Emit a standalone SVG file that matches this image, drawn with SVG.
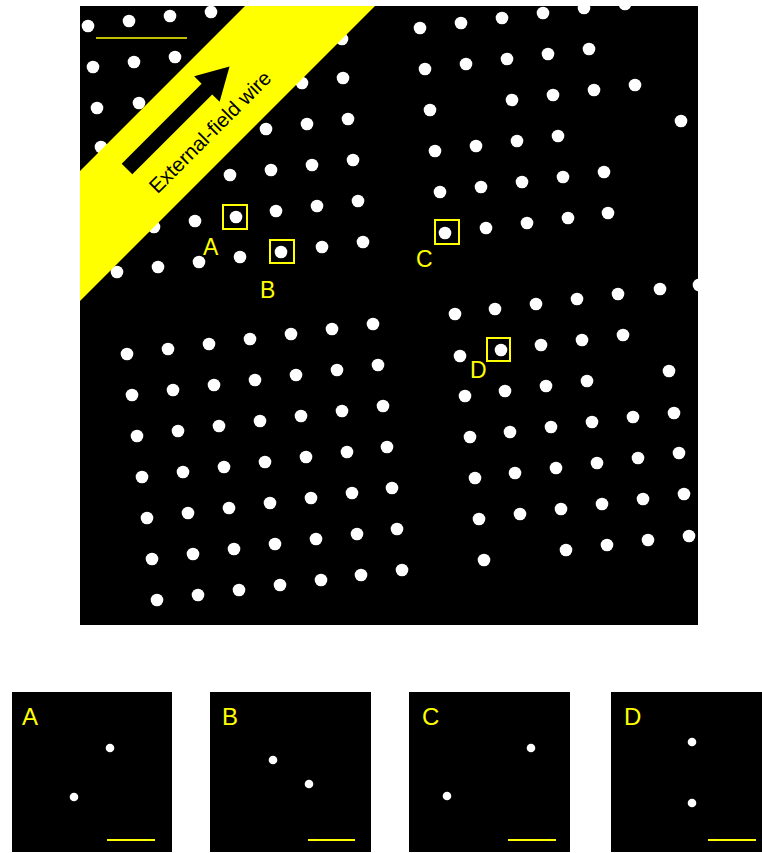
<svg xmlns="http://www.w3.org/2000/svg" width="762" height="853" viewBox="0 0 762 853">
<style>
.bg{fill:#000}
.d circle{fill:#fff}
.lbl{font-family:"Liberation Sans",Arial,sans-serif;fill:#ffff00}
.box{fill:none;stroke:#ffff00;stroke-width:2}
.bar{stroke:#ffff00;stroke-width:2}
</style>
<defs>
<clipPath id="mainclip"><rect x="80" y="6" width="618" height="619"/></clipPath>
</defs>
<rect width="762" height="853" fill="#fff"/>
<g id="main-panel" clip-path="url(#mainclip)">
<rect class="bg" x="80" y="6" width="618" height="619"/>
<g id="dots-upper-left" class="d">
<circle cx="88" cy="26" r="6.3"/><circle cx="129" cy="21" r="6.3"/><circle cx="170" cy="16" r="6.3"/><circle cx="211" cy="12" r="6.3"/>
<circle cx="93" cy="67" r="6.3"/><circle cx="134" cy="62" r="6.3"/><circle cx="175" cy="57" r="6.3"/>
<circle cx="97" cy="108" r="6.3"/><circle cx="139" cy="103" r="6.3"/>
<circle cx="101" cy="147" r="6.3"/>
</g>
<g id="dots-left-band" class="d">
<circle cx="342" cy="39" r="6.3"/>
<circle cx="302" cy="83" r="6.3"/><circle cx="343" cy="78" r="6.3"/>
<circle cx="266" cy="129" r="6.3"/><circle cx="307" cy="124" r="6.3"/><circle cx="348" cy="119" r="6.3"/>
<circle cx="230" cy="175" r="6.3"/><circle cx="271" cy="170" r="6.3"/><circle cx="312" cy="165" r="6.3"/><circle cx="353" cy="160" r="6.3"/>
<circle cx="154" cy="227" r="6.3"/><circle cx="195" cy="221" r="6.3"/><circle cx="236" cy="217" r="6.3"/><circle cx="276" cy="211" r="6.3"/><circle cx="317" cy="206" r="6.3"/><circle cx="358" cy="201" r="6.3"/>
<circle cx="117" cy="272" r="6.3"/><circle cx="158" cy="267" r="6.3"/><circle cx="199" cy="262" r="6.3"/><circle cx="240" cy="257" r="6.3"/><circle cx="281" cy="252" r="6.3"/><circle cx="322" cy="247" r="6.3"/><circle cx="363" cy="242" r="6.3"/>
</g>
<g id="dots-upper-right" class="d">
<circle cx="420" cy="28" r="6.3"/><circle cx="461" cy="23" r="6.3"/><circle cx="502" cy="18" r="6.3"/><circle cx="543" cy="13" r="6.3"/><circle cx="584" cy="8" r="6.3"/><circle cx="625" cy="4" r="6.3"/>
<circle cx="425" cy="69" r="6.3"/><circle cx="466" cy="64" r="6.3"/><circle cx="507" cy="59" r="6.3"/><circle cx="548" cy="54" r="6.3"/><circle cx="589" cy="49" r="6.3"/>
<circle cx="430" cy="110" r="6.3"/><circle cx="512" cy="100" r="6.3"/><circle cx="553" cy="95" r="6.3"/><circle cx="594" cy="90" r="6.3"/><circle cx="635" cy="85" r="6.3"/>
<circle cx="681" cy="121" r="6.3"/>
<circle cx="435" cy="151" r="6.3"/><circle cx="476" cy="146" r="6.3"/><circle cx="517" cy="141" r="6.3"/><circle cx="558" cy="136" r="6.3"/>
<circle cx="440" cy="192" r="6.3"/><circle cx="481" cy="187" r="6.3"/><circle cx="522" cy="182" r="6.3"/><circle cx="563" cy="177" r="6.3"/><circle cx="604" cy="172" r="6.3"/>
<circle cx="445" cy="233" r="6.3"/><circle cx="486" cy="228" r="6.3"/><circle cx="527" cy="223" r="6.3"/><circle cx="568" cy="218" r="6.3"/><circle cx="608" cy="213" r="6.3"/>
</g>
<g id="dots-lower-left" class="d">
<circle cx="127" cy="354" r="6.3"/><circle cx="168" cy="349" r="6.3"/><circle cx="209" cy="344" r="6.3"/><circle cx="250" cy="339" r="6.3"/><circle cx="291" cy="334" r="6.3"/><circle cx="332" cy="329" r="6.3"/><circle cx="373" cy="324" r="6.3"/>
<circle cx="132" cy="395" r="6.3"/><circle cx="173" cy="390" r="6.3"/><circle cx="214" cy="385" r="6.3"/><circle cx="255" cy="380" r="6.3"/><circle cx="296" cy="375" r="6.3"/><circle cx="337" cy="370" r="6.3"/><circle cx="378" cy="365" r="6.3"/>
<circle cx="137" cy="436" r="6.3"/><circle cx="178" cy="431" r="6.3"/><circle cx="219" cy="426" r="6.3"/><circle cx="260" cy="421" r="6.3"/><circle cx="301" cy="416" r="6.3"/><circle cx="342" cy="411" r="6.3"/><circle cx="383" cy="406" r="6.3"/>
<circle cx="142" cy="477" r="6.3"/><circle cx="183" cy="472" r="6.3"/><circle cx="224" cy="467" r="6.3"/><circle cx="265" cy="462" r="6.3"/><circle cx="306" cy="457" r="6.3"/><circle cx="347" cy="452" r="6.3"/><circle cx="387" cy="447" r="6.3"/>
<circle cx="147" cy="518" r="6.3"/><circle cx="188" cy="513" r="6.3"/><circle cx="229" cy="508" r="6.3"/><circle cx="270" cy="503" r="6.3"/><circle cx="311" cy="498" r="6.3"/><circle cx="352" cy="493" r="6.3"/><circle cx="392" cy="488" r="6.3"/>
<circle cx="152" cy="559" r="6.3"/><circle cx="193" cy="554" r="6.3"/><circle cx="234" cy="549" r="6.3"/><circle cx="275" cy="544" r="6.3"/><circle cx="316" cy="539" r="6.3"/><circle cx="357" cy="534" r="6.3"/><circle cx="397" cy="529" r="6.3"/>
<circle cx="157" cy="600" r="6.3"/><circle cx="198" cy="595" r="6.3"/><circle cx="239" cy="590" r="6.3"/><circle cx="280" cy="585" r="6.3"/><circle cx="321" cy="580" r="6.3"/><circle cx="361" cy="575" r="6.3"/><circle cx="402" cy="570" r="6.3"/>
</g>
<g id="dots-lower-right" class="d">
<circle cx="455" cy="314" r="6.3"/><circle cx="495" cy="309" r="6.3"/><circle cx="536" cy="304" r="6.3"/><circle cx="577" cy="299" r="6.3"/><circle cx="618" cy="294" r="6.3"/><circle cx="660" cy="289" r="6.3"/><circle cx="699" cy="285" r="6.3"/>
<circle cx="460" cy="356" r="6.3"/><circle cx="501" cy="350" r="6.3"/><circle cx="541" cy="345" r="6.3"/><circle cx="582" cy="340" r="6.3"/><circle cx="623" cy="335" r="6.3"/>
<circle cx="669" cy="371" r="6.3"/>
<circle cx="465" cy="396" r="6.3"/><circle cx="505" cy="391" r="6.3"/><circle cx="546" cy="386" r="6.3"/><circle cx="587" cy="381" r="6.3"/>
<circle cx="470" cy="437" r="6.3"/><circle cx="510" cy="432" r="6.3"/><circle cx="551" cy="427" r="6.3"/><circle cx="592" cy="422" r="6.3"/><circle cx="633" cy="417" r="6.3"/><circle cx="674" cy="413" r="6.3"/>
<circle cx="475" cy="478" r="6.3"/><circle cx="515" cy="473" r="6.3"/><circle cx="556" cy="468" r="6.3"/><circle cx="597" cy="463" r="6.3"/><circle cx="638" cy="458" r="6.3"/><circle cx="679" cy="453" r="6.3"/>
<circle cx="479" cy="519" r="6.3"/><circle cx="520" cy="514" r="6.3"/><circle cx="561" cy="509" r="6.3"/><circle cx="602" cy="504" r="6.3"/><circle cx="643" cy="499" r="6.3"/><circle cx="684" cy="494" r="6.3"/>
<circle cx="484" cy="560" r="6.3"/><circle cx="566" cy="550" r="6.3"/><circle cx="607" cy="545" r="6.3"/><circle cx="648" cy="540" r="6.3"/><circle cx="689" cy="536" r="6.3"/>
</g>
<g id="wire">
<polygon points="245,6 375,6 80,301 80,171" fill="#ffff00"/>
<polygon points="0,-7.5 113,-7.5 113,-18 145,0 113,18 113,7.5 0,7.5" fill="#000" transform="translate(127,169) rotate(-45)"/>
<text x="215" y="137" text-anchor="middle" transform="rotate(-45 215 137)" font-family="'Liberation Sans',Arial,sans-serif" font-size="20.5" fill="#000">External-field wire</text>
</g>
<line id="main-scalebar" x1="96" y1="38" x2="187" y2="38" stroke="#ffff00" stroke-width="1.5"/>
<g id="marker-A"><rect class="box" x="223" y="205" width="24" height="24"/><text class="lbl" x="203" y="255" font-size="23">A</text></g>
<g id="marker-B"><rect class="box" x="270" y="240" width="24" height="23"/><text class="lbl" x="260" y="298" font-size="23">B</text></g>
<g id="marker-C"><rect class="box" x="435" y="220" width="24" height="24"/><text class="lbl" x="416" y="267" font-size="23">C</text></g>
<g id="marker-D"><rect class="box" x="487" y="338" width="23" height="23"/><text class="lbl" x="470" y="378" font-size="23">D</text></g>
</g>
<g id="panel-A">
<rect class="bg" x="12" y="692" width="160" height="160"/>
<text class="lbl" x="22" y="725" font-size="24">A</text>
<circle cx="110" cy="748" r="4.3" fill="#fff"/><circle cx="74" cy="797" r="4.3" fill="#fff"/>
<line class="bar" x1="107" y1="840" x2="155" y2="840"/>
</g>
<g id="panel-B">
<rect class="bg" x="210" y="692" width="161" height="160"/>
<text class="lbl" x="222" y="725" font-size="24">B</text>
<circle cx="273" cy="760" r="4.3" fill="#fff"/><circle cx="309" cy="784" r="4.3" fill="#fff"/>
<line class="bar" x1="308" y1="840" x2="355" y2="840"/>
</g>
<g id="panel-C">
<rect class="bg" x="409" y="692" width="161" height="160"/>
<text class="lbl" x="422" y="725" font-size="24">C</text>
<circle cx="531" cy="748" r="4.3" fill="#fff"/><circle cx="447" cy="796" r="4.3" fill="#fff"/>
<line class="bar" x1="508" y1="840" x2="556" y2="840"/>
</g>
<g id="panel-D">
<rect class="bg" x="611" y="692" width="160" height="160"/>
<text class="lbl" x="624" y="725" font-size="24">D</text>
<circle cx="692" cy="742" r="4.3" fill="#fff"/><circle cx="692" cy="803" r="4.3" fill="#fff"/>
<line class="bar" x1="708" y1="840" x2="756" y2="840"/>
</g>
</svg>
